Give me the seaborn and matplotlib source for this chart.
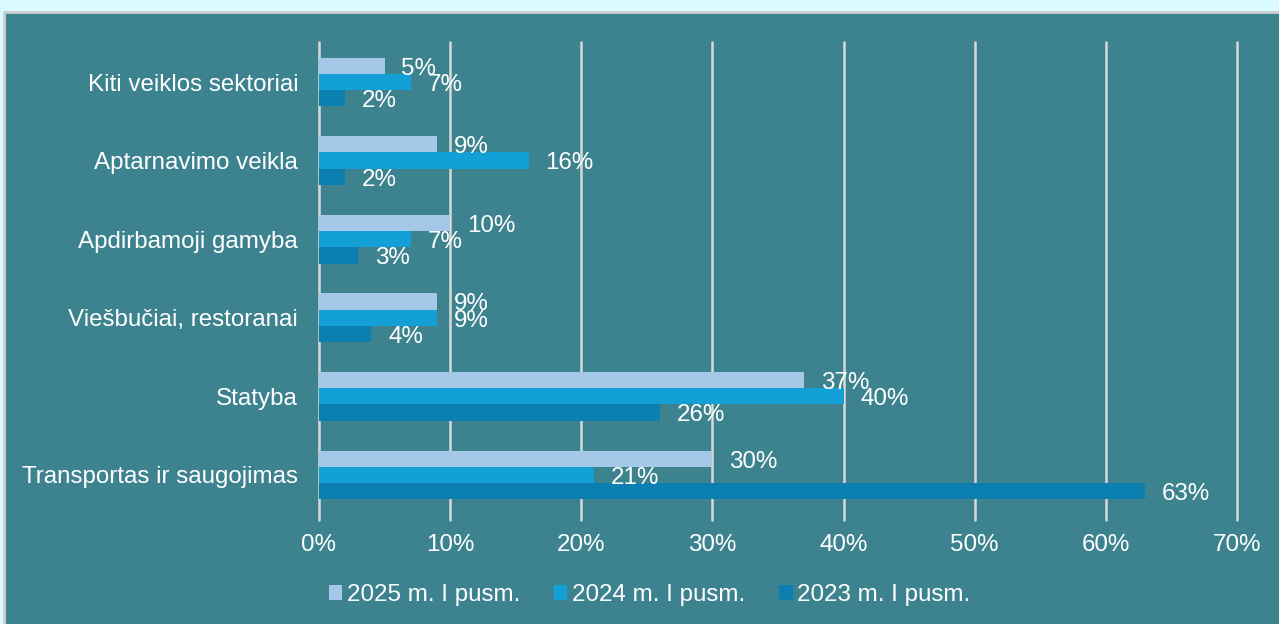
import pandas as pd
import matplotlib
matplotlib.use("Agg")
import matplotlib.pyplot as plt
import seaborn as sns
from matplotlib.patches import Rectangle, Patch

# data
sectors = ["Kiti veiklos sektoriai", "Aptarnavimo veikla", "Apdirbamoji gamyba",
           "Viešbučiai, restoranai", "Statyba", "Transportas ir saugojimas"]
periods = ["2025 m. I pusm.", "2024 m. I pusm.", "2023 m. I pusm."]
v2025 = [5, 9, 10, 9, 37, 30]
v2024 = [7, 16, 7, 9, 40, 21]
v2023 = [2, 2, 3, 4, 26, 63]
colors = ["#A6C8E8", "#12A0D7", "#0B80B0"]

rows = []
for p, vals in zip(periods, [v2025, v2024, v2023]):
    for s, v in zip(sectors, vals):
        rows.append({"sector": s, "period": p, "value": v})
df = pd.DataFrame(rows)

sns.set_style("white")
plt.rcParams["font.family"] = ["Liberation Sans", "DejaVu Sans"]
fs = 17.4

fig = plt.figure(figsize=(12.79, 6.24), dpi=100, facecolor="#D9FAFF")
# teal panel with grey border
fig.add_artist(Rectangle((4 / 1279, -0.02), 1.0, 612 / 624 + 0.02, transform=fig.transFigure,
                         facecolor="#3D838F", edgecolor="#CFCFCF", lw=2, zorder=-1))

ax = fig.add_axes([319 / 1279, 104 / 624, 918 / 1279, 478 / 624])
ax.set_facecolor("none")

sns.barplot(data=df, y="sector", x="value", hue="period", order=sectors, hue_order=periods,
            orient="h", palette=colors, width=0.62, gap=0, saturation=1,
            linewidth=0, edgecolor="none", ax=ax)

for cont, vals in zip(ax.containers, [v2025, v2024, v2023]):
    texts = ax.bar_label(cont, labels=[f"{v}%" for v in vals], padding=12, color="white", fontsize=fs)
    for t in texts:
        t.set_y(t.get_position()[1] - 2)  # nudge down a little (offset points)

ax.get_legend().remove()
ax.set_xlim(0, 70)
ax.set_ylim(5.573, -0.509)
ax.set_xticks(range(0, 71, 10))
ax.set_xticklabels([f"{t}%" for t in range(0, 71, 10)])
ax.set_xlabel("")
ax.set_ylabel("")
ax.xaxis.grid(True, color="#D9D9D9", lw=1.8)
for gl in ax.get_xgridlines():
    gl.set_clip_on(False)
ax.set_axisbelow(True)
for sp in ax.spines.values():
    sp.set_visible(False)
ax.tick_params(axis="x", length=0, pad=10, labelsize=fs, labelcolor="white")
ax.tick_params(axis="y", length=0, pad=15, labelsize=fs, labelcolor="white")

handles = [Patch(facecolor=c, edgecolor="none") for c in colors]
fig.legend(handles, periods, loc="center", bbox_to_anchor=(0.508, 0.046), ncol=3,
           frameon=False, fontsize=fs, labelcolor="white", handlelength=0.55,
           handleheight=0.6, handletextpad=0.2, columnspacing=1.4)

fig.savefig("out.png", dpi=100, facecolor=fig.get_facecolor())
